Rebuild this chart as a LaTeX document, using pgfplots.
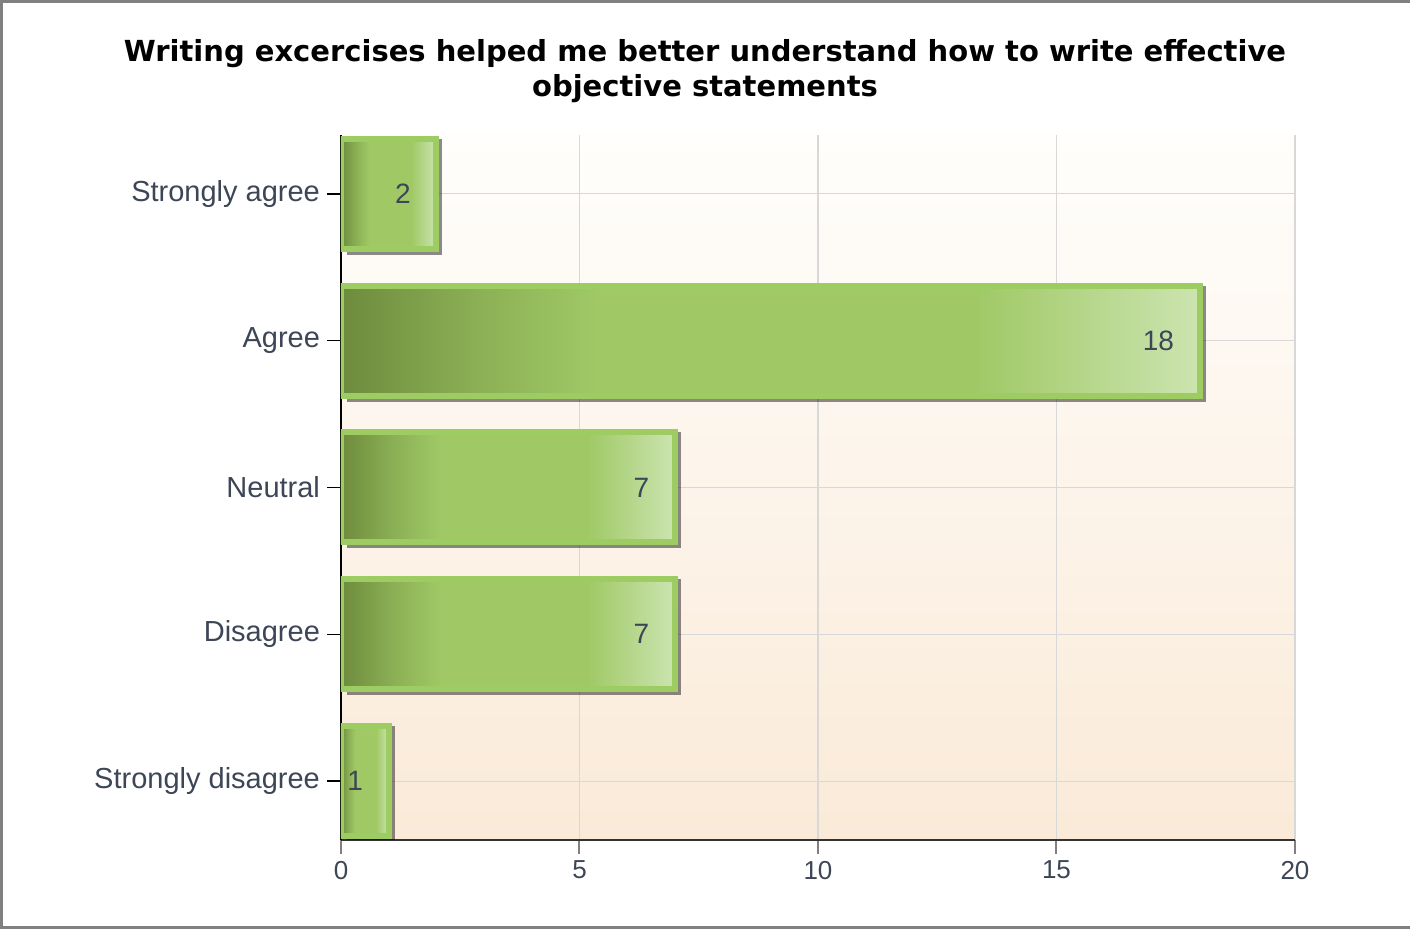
\documentclass[border=0pt]{standalone}
\usepackage{fontspec}
\setmainfont{Liberation Sans}
\newfontfamily\titlefont{DejaVu Sans}
\usepackage{pgfplots}
\pgfplotsset{compat=1.18}

\definecolor{labelc}{RGB}{61,70,86}
\definecolor{barouter}{RGB}{156,204,98}
\definecolor{bdark}{RGB}{110,139,61}
\definecolor{bmidA}{RGB}{139,176,85}
\definecolor{bmid}{RGB}{160,201,102}
\definecolor{blight}{RGB}{204,228,176}
\definecolor{bgtop}{RGB}{255,254,252}
\definecolor{bgbot}{RGB}{250,234,216}
\definecolor{gridc}{RGB}{216,216,216}

% dark on the left, flat green in the middle, pale at the end
\pgfdeclarehorizontalshading{barshade}{100bp}{color(0bp)=(bdark); color(25bp)=(bdark); color(33bp)=(bmidA); color(40bp)=(bmid); color(62bp)=(bmid); color(75bp)=(blight); color(100bp)=(blight)}

\pgfplotsset{
  greenbar/.style={draw=barouter, line width=3pt, shade, shading=barshade},
  barshadow/.style={fill=black, draw=none, fill opacity=0.45, bar width=58pt,
    xshift=3pt, yshift=-1.5pt, forget plot},
}

\begin{document}
\begin{tikzpicture}
\useasboundingbox (-170.5pt,-45pt) rectangle (534.5pt,420pt);
\draw[color=gray, line width=1.5pt] (536pt,-44pt) -- (-169.75pt,-44pt) -- (-169.75pt,419.25pt) -- (536pt,419.25pt);
\begin{axis}[
    scale only axis,
    width=477pt, height=352.5pt,
    at={(0,0)}, anchor=south west,
    xbar, bar width=55pt, bar shift=0pt,
    xmin=0, xmax=20, ymin=-0.4, ymax=4.4,
    axis lines=left,
    axis line style={-},
    x axis line style={color=black!80, line width=1pt},
    y axis line style={color=black, line width=1pt},
    xtick={0,5,...,20},
    ytick={0,...,4},
    yticklabels={Strongly disagree, Disagree, Neutral, Agree, Strongly agree},
    grid=major,
    major grid style={color=gridc, line width=0.6pt},
    tick align=outside,
    major tick length=7pt,
    x tick style={color=gray, line width=1pt},
    y tick style={color=black, line width=0.8pt},
    /pgf/number format/assume math mode=true,
    xticklabel style={font=\fontsize{13}{15}\selectfont, text=labelc},
    yticklabel style={font=\fontsize{14.5}{17}\selectfont, text=labelc},
    axis background/.style={top color=bgtop, bottom color=bgbot},
    point meta=x,
    every node near coord/.append style={anchor=east, xshift=-8pt, font=\fontsize{14}{16}\selectfont, text=labelc},
]
% shadows first
\addplot[barshadow] coordinates {(2,4)};
\addplot[barshadow] coordinates {(18,3)};
\addplot[barshadow] coordinates {(7,2)};
\addplot[barshadow] coordinates {(7,1)};
\addplot[barshadow] coordinates {(1,0)};
% bars
\addplot[greenbar, nodes near coords] coordinates {(2,4)};
\addplot[greenbar, nodes near coords] coordinates {(18,3)};
\addplot[greenbar, nodes near coords] coordinates {(7,2)};
\addplot[greenbar, nodes near coords] coordinates {(7,1)};
\addplot[greenbar, nodes near coords] coordinates {(1,0)};
\end{axis}
\node[font=\titlefont\bfseries\fontsize{14.5}{17.5}\selectfont, align=center] at (182pt,384.5pt)
  {Writing excercises helped me better understand how to write effective\\objective statements};
\end{tikzpicture}
\end{document}
